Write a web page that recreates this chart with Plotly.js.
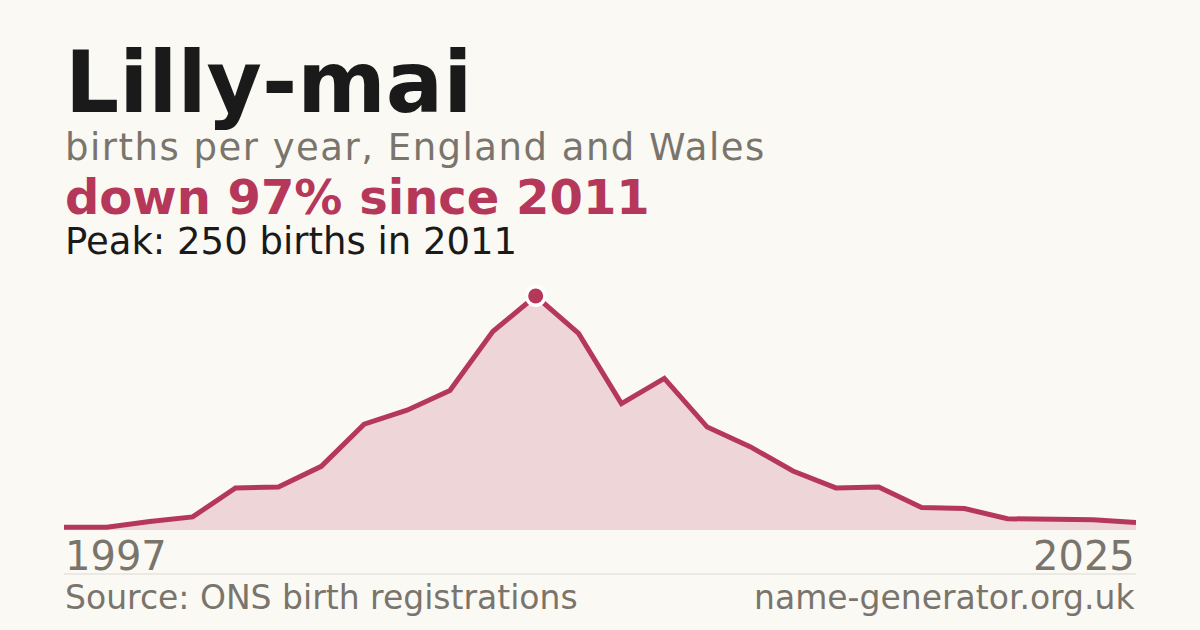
<!DOCTYPE html>
<html>
<head>
<meta charset="utf-8">
<script src="https://cdn.plot.ly/plotly-3.0.1.min.js"></script>
<style>
  html, body { margin: 0; padding: 0; background: #faf9f4; }
  #chart { width: 1200px; height: 630px; }
</style>
</head>
<body>
<div id="chart"></div>
<script>
// Births per year for the name, in the order they were registered
const years = ['1997', '2001', '2002', '2003', '2004', '2005', '2006', '2007', '2008', '2009',
               '2010', '2011', '2012', '2013', '2014', '2015', '2016', '2017', '2018', '2019',
               '2020', '2021', '2022', '2023', '2024', '2025'];
const births = [3, 3, 9, 14, 45, 46, 68, 113, 128, 149,
                212, 250, 210, 135, 162, 110, 89, 63, 45, 46,
                24, 23, 12, 11, 11, 8];
const peakYear = '2011';
const peakBirths = 250;

const nameTitle = 'Lilly-mai';
const subtitle = 'births per year, England and Wales';
const changeText = 'down 97% since 2011';
const peakText = 'Peak: 250 births in 2011';
const sourceText = 'Source: ONS birth registrations';
const siteText = 'name-generator.org.uk';

const red = '#b5385a';
const grey = '#7a756c';
const ink = '#1a1a1a';
const font = 'DejaVu Sans, sans-serif';

// plot area sits between y=296 and y=530 on the 630px canvas
const plotTop = 296, plotBottom = 530;
const py = y => (plotBottom - y) / (plotBottom - plotTop);

const area = {
    x: years,
    y: births,
    type: 'scatter',
    mode: 'lines',
    fill: 'tozeroy',
    fillcolor: 'rgba(181,56,90,0.18)',
    line: { color: red, width: 5 },
    hoverinfo: 'skip'
};

// peak dot: white halo underneath, red dot on top
const halo = {
    x: [peakYear],
    y: [peakBirths],
    type: 'scatter',
    mode: 'markers',
    marker: { size: 22, color: '#ffffff' },
    cliponaxis: false,
    hoverinfo: 'skip'
};
const peak = {
    x: [peakYear],
    y: [peakBirths],
    type: 'scatter',
    mode: 'markers',
    marker: { size: 15, color: red },
    cliponaxis: false,
    hoverinfo: 'skip'
};

// baseline y (px) -> middle of the text box for DejaVu Sans
function note(text, x, anchor, baseline, size, color, bold, spacing) {
    let t = bold ? '<b>' + text + '</b>' : text;
    if (spacing) t = '<span style="letter-spacing:' + spacing + 'px">' + t + '</span>';
    return {
        text: t,
        xref: 'paper', yref: 'paper',
        x: x, xanchor: anchor,
        y: py(baseline - 0.346 * size), yanchor: 'middle',
        showarrow: false,
        borderpad: 0,
        font: { family: font, size: size, color: color }
    };
}

const layout = {
    width: 1200,
    height: 630,
    paper_bgcolor: '#faf9f4',
    plot_bgcolor: '#faf9f4',
    margin: { l: 64, r: 64, t: plotTop, b: 630 - plotBottom },
    showlegend: false,
    xaxis: {
        type: 'category',
        range: [0, years.length - 1],
        showticklabels: false,
        showgrid: false,
        zeroline: false,
        ticks: ''
    },
    yaxis: {
        range: [0, peakBirths],
        showticklabels: false,
        showgrid: false,
        zeroline: false,
        ticks: ''
    },
    shapes: [{
        type: 'line', xref: 'paper', yref: 'paper',
        x0: 0, x1: 1, y0: py(574), y1: py(574),
        line: { color: '#dcd9d2', width: 1 }
    }],
    annotations: [
        note(nameTitle, 0, 'left', 112, 85, ink, true),
        note(subtitle, 0, 'left', 160, 37, grey, false, 1.5),
        note(changeText, 0, 'left', 214, 48, red, true),
        note(peakText, 0, 'left', 254, 37, ink, false),
        note(years[0], 0, 'left', 570, 40, grey, false),
        note(years[years.length - 1], 1, 'right', 570, 40, grey, false),
        note(sourceText, 0, 'left', 609, 33, grey, false),
        note(siteText, 1, 'right', 609, 33, grey, false)
    ]
};

Plotly.newPlot('chart', [area, halo, peak], layout, { staticPlot: true, displayModeBar: false });
</script>
</body>
</html>
